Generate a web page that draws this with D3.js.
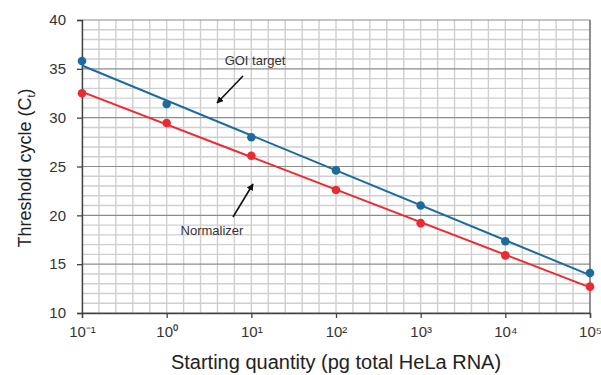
<!DOCTYPE html>
<html><head><meta charset="utf-8">
<script src="https://cdn.jsdelivr.net/npm/d3@7"></script>
<style>body{margin:0;background:#fff}text{font-family:"Liberation Sans",Arial,sans-serif}</style>
</head><body><svg id="c" width="601" height="375"></svg>
<script>
const exponents = [-1, 0, 1, 2, 3, 4, 5];
const goiCt = [35.8, 31.4, 28.0, 24.6, 21.0, 17.35, 14.1];
const normCt = [32.5, 29.45, 26.1, 22.6, 19.2, 15.9, 12.7];
const yTicks = [10, 15, 20, 25, 30, 35, 40];
const supers = {"-1":"\u207B\u00B9","0":"\u2070","1":"\u00B9","2":"\u00B2","3":"\u00B3","4":"\u2074","5":"\u2075"};

const svg = d3.select("#c");
const L = 82, R = 590, T = 20, B = 313;
const x = d3.scaleLinear().domain([-1, 5]).range([L, R]);
const y = d3.scaleLinear().domain([10, 40]).range([B, T]);

// grid
const g = svg.append("g");
const vx = d3.range(-1, 5.0001, 0.2);
g.selectAll(".vg").data(vx).join("line")
  .attr("x1", d => x(d)).attr("x2", d => x(d)).attr("y1", T).attr("y2", B)
  .attr("stroke", "#cfcfcf").attr("stroke-width", 1.4);
const hy = d3.range(10, 40.001, 1).filter(v => Math.round(v) % 5 !== 0);
g.selectAll(".hg").data(hy).join("line")
  .attr("x1", L).attr("x2", R).attr("y1", d => y(d)).attr("y2", d => y(d))
  .attr("stroke", "#cfcfcf").attr("stroke-width", 1.4);
g.selectAll(".hm").data(yTicks).join("line")
  .attr("x1", L).attr("x2", R).attr("y1", d => y(d)).attr("y2", d => y(d))
  .attr("stroke", "#8c8c8c").attr("stroke-width", 1.1);
// right border
g.append("line").attr("x1", R).attr("x2", R).attr("y1", T).attr("y2", B)
  .attr("stroke", "#666").attr("stroke-width", 1.3);

// axes
const yAxis = svg.append("g").attr("transform", `translate(${L},0)`)
  .call(d3.axisLeft(y).tickValues(yTicks).tickSize(5).tickPadding(11));
const xAxis = svg.append("g").attr("transform", `translate(0,${B})`)
  .call(d3.axisBottom(x).tickValues(exponents).tickSize(5).tickPadding(8)
    .tickFormat(d => "10" + supers[d]));
[yAxis, xAxis].forEach(a => {
  a.select(".domain").attr("stroke", "#444").attr("stroke-width", 1.4);
  a.selectAll(".tick line").attr("stroke", "#444").attr("stroke-width", 1.3);
  a.selectAll("text").attr("fill", "#333").style("font-size", "15px");
});

// regression lines
function fit(ys) {
  const mx = d3.mean(exponents), my = d3.mean(ys);
  let sxy = 0, sxx = 0;
  exponents.forEach((e, i) => { sxy += (e - mx) * (ys[i] - my); sxx += (e - mx) ** 2; });
  const m = sxy / sxx;
  return [[-1, my + m * (-1 - mx)], [5, my + m * (5 - mx)]];
}
const line = d3.line().x(d => x(d[0])).y(d => y(d[1]));
const series = [{v: goiCt, c: "#1d6b9e"}, {v: normCt, c: "#ec2a32"}];
series.forEach(s => {
  svg.append("path").attr("d", line(fit(s.v))).attr("fill", "none")
    .attr("stroke", s.c).attr("stroke-width", 2);
});
series.forEach(s => {
  svg.selectAll(null).data(exponents).join("circle")
    .attr("cx", d => x(d)).attr("cy", (d, i) => y(s.v[i])).attr("r", 4.3)
    .attr("fill", s.c);
});

// annotations
svg.append("defs").append("marker").attr("id", "ah").attr("viewBox", "0 0 10 10")
  .attr("refX", 9).attr("refY", 5).attr("markerWidth", 7).attr("markerHeight", 7)
  .attr("orient", "auto").attr("markerUnits", "userSpaceOnUse")
  .append("path").attr("d", "M0,0 L10,5 L0,10 z").attr("fill", "#111");
svg.append("text").attr("x", 255).attr("y", 65).attr("text-anchor", "middle")
  .attr("fill", "#333").style("font-size", "13px").text("GOI target");
svg.append("line").attr("x1", 243).attr("y1", 76).attr("x2", 217).attr("y2", 103)
  .attr("stroke", "#111").attr("stroke-width", 1.6).attr("marker-end", "url(#ah)");
svg.append("text").attr("x", 212).attr("y", 235).attr("text-anchor", "middle")
  .attr("fill", "#333").style("font-size", "13px").text("Normalizer");
svg.append("line").attr("x1", 233).attr("y1", 217).attr("x2", 253).attr("y2", 184)
  .attr("stroke", "#111").attr("stroke-width", 1.6).attr("marker-end", "url(#ah)");

// titles
svg.append("text").attr("x", 336).attr("y", 369).attr("text-anchor", "middle")
  .attr("fill", "#222").style("font-size", "20px")
  .text("Starting quantity (pg total HeLa RNA)");
const yt = svg.append("text").attr("transform", "translate(31,168) rotate(-90)")
  .attr("text-anchor", "middle").attr("fill", "#222").style("font-size", "18px");
yt.append("tspan").text("Threshold cycle (C");
yt.append("tspan").attr("dy", 4).style("font-size", "11px").text("t");
yt.append("tspan").attr("dy", -4).text(")");
</script></body></html>
